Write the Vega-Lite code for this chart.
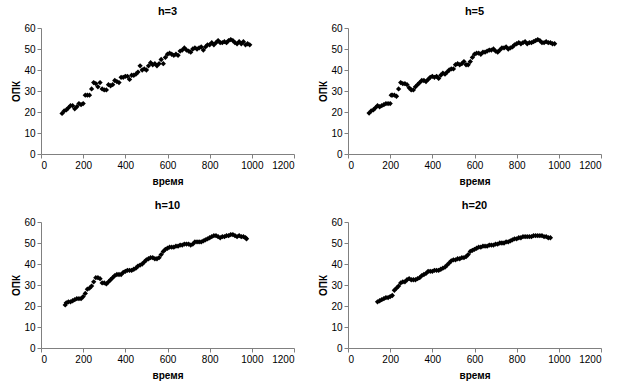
{
 "$schema": "https://vega.github.io/schema/vega-lite/v6.json",
 "padding": {"left": 11, "top": 6, "right": 5, "bottom": 5},
 "background": "white",
 "data": {"values": [
{"h":"h=3","t":100,"v":19.3},{"h":"h=3","t":110,"v":20.5},{"h":"h=3","t":120,"v":21},{"h":"h=3","t":130,"v":22},{"h":"h=3","t":140,"v":23},{"h":"h=3","t":150,"v":23},{"h":"h=3","t":160,"v":21.5},{"h":"h=3","t":170,"v":22.5},{"h":"h=3","t":180,"v":24},{"h":"h=3","t":190,"v":23.5},{"h":"h=3","t":200,"v":24},{"h":"h=3","t":210,"v":28},{"h":"h=3","t":220,"v":28},{"h":"h=3","t":230,"v":28},{"h":"h=3","t":240,"v":31},{"h":"h=3","t":250,"v":34},{"h":"h=3","t":260,"v":33.5},{"h":"h=3","t":270,"v":32},{"h":"h=3","t":280,"v":34},{"h":"h=3","t":290,"v":31},{"h":"h=3","t":300,"v":30.5},{"h":"h=3","t":310,"v":30.5},{"h":"h=3","t":320,"v":33},{"h":"h=3","t":330,"v":32.5},{"h":"h=3","t":340,"v":33},{"h":"h=3","t":350,"v":35},{"h":"h=3","t":360,"v":34.5},{"h":"h=3","t":370,"v":34},{"h":"h=3","t":380,"v":36.5},{"h":"h=3","t":390,"v":36.5},{"h":"h=3","t":400,"v":37},{"h":"h=3","t":410,"v":37},{"h":"h=3","t":420,"v":35.5},{"h":"h=3","t":430,"v":37.5},{"h":"h=3","t":440,"v":37.5},{"h":"h=3","t":450,"v":38},{"h":"h=3","t":460,"v":39},{"h":"h=3","t":470,"v":42},{"h":"h=3","t":480,"v":40},{"h":"h=3","t":490,"v":40.5},{"h":"h=3","t":500,"v":40},{"h":"h=3","t":510,"v":42},{"h":"h=3","t":520,"v":43.5},{"h":"h=3","t":530,"v":42.5},{"h":"h=3","t":540,"v":43},{"h":"h=3","t":550,"v":42},{"h":"h=3","t":560,"v":43},{"h":"h=3","t":570,"v":45},{"h":"h=3","t":580,"v":43},{"h":"h=3","t":590,"v":46},{"h":"h=3","t":600,"v":47.5},{"h":"h=3","t":610,"v":48},{"h":"h=3","t":620,"v":47.5},{"h":"h=3","t":630,"v":47},{"h":"h=3","t":640,"v":47.5},{"h":"h=3","t":650,"v":47},{"h":"h=3","t":660,"v":49},{"h":"h=3","t":670,"v":49.5},{"h":"h=3","t":680,"v":50.5},{"h":"h=3","t":690,"v":49.5},{"h":"h=3","t":700,"v":49},{"h":"h=3","t":710,"v":48.5},{"h":"h=3","t":720,"v":50},{"h":"h=3","t":730,"v":50.5},{"h":"h=3","t":740,"v":50},{"h":"h=3","t":750,"v":50.5},{"h":"h=3","t":760,"v":51},{"h":"h=3","t":770,"v":49.5},{"h":"h=3","t":780,"v":51},{"h":"h=3","t":790,"v":52},{"h":"h=3","t":800,"v":52},{"h":"h=3","t":810,"v":53},{"h":"h=3","t":820,"v":52},{"h":"h=3","t":830,"v":53},{"h":"h=3","t":840,"v":54},{"h":"h=3","t":850,"v":53},{"h":"h=3","t":860,"v":53},{"h":"h=3","t":870,"v":53.5},{"h":"h=3","t":880,"v":53},{"h":"h=3","t":890,"v":54},{"h":"h=3","t":900,"v":54.5},{"h":"h=3","t":910,"v":54},{"h":"h=3","t":920,"v":53},{"h":"h=3","t":930,"v":52.5},{"h":"h=3","t":940,"v":53.5},{"h":"h=3","t":950,"v":52.5},{"h":"h=3","t":960,"v":53.5},{"h":"h=3","t":970,"v":52},{"h":"h=3","t":980,"v":52.5},{"h":"h=3","t":990,"v":52},
{"h":"h=5","t":100,"v":19.5},{"h":"h=5","t":110,"v":20.5},{"h":"h=5","t":120,"v":21},{"h":"h=5","t":130,"v":22},{"h":"h=5","t":140,"v":23},{"h":"h=5","t":150,"v":22.5},{"h":"h=5","t":160,"v":23},{"h":"h=5","t":170,"v":23.5},{"h":"h=5","t":180,"v":24},{"h":"h=5","t":190,"v":24},{"h":"h=5","t":200,"v":24},{"h":"h=5","t":205,"v":28},{"h":"h=5","t":210,"v":28},{"h":"h=5","t":220,"v":28},{"h":"h=5","t":230,"v":27.5},{"h":"h=5","t":240,"v":31},{"h":"h=5","t":250,"v":34},{"h":"h=5","t":260,"v":33.5},{"h":"h=5","t":270,"v":33.5},{"h":"h=5","t":280,"v":33},{"h":"h=5","t":290,"v":31.5},{"h":"h=5","t":300,"v":30.5},{"h":"h=5","t":310,"v":30.5},{"h":"h=5","t":320,"v":32},{"h":"h=5","t":330,"v":33},{"h":"h=5","t":340,"v":34},{"h":"h=5","t":350,"v":35},{"h":"h=5","t":360,"v":35},{"h":"h=5","t":370,"v":34.5},{"h":"h=5","t":380,"v":35.5},{"h":"h=5","t":390,"v":36.5},{"h":"h=5","t":400,"v":37},{"h":"h=5","t":410,"v":36.5},{"h":"h=5","t":420,"v":37},{"h":"h=5","t":430,"v":36},{"h":"h=5","t":440,"v":37.5},{"h":"h=5","t":450,"v":38.5},{"h":"h=5","t":460,"v":38},{"h":"h=5","t":470,"v":39},{"h":"h=5","t":480,"v":40},{"h":"h=5","t":490,"v":40.5},{"h":"h=5","t":500,"v":40.5},{"h":"h=5","t":510,"v":42.5},{"h":"h=5","t":520,"v":43},{"h":"h=5","t":530,"v":42.5},{"h":"h=5","t":540,"v":43},{"h":"h=5","t":550,"v":44},{"h":"h=5","t":560,"v":42.5},{"h":"h=5","t":570,"v":42.5},{"h":"h=5","t":580,"v":44},{"h":"h=5","t":590,"v":46},{"h":"h=5","t":600,"v":47.5},{"h":"h=5","t":610,"v":48},{"h":"h=5","t":620,"v":48},{"h":"h=5","t":630,"v":47.5},{"h":"h=5","t":640,"v":48.5},{"h":"h=5","t":650,"v":48.5},{"h":"h=5","t":660,"v":49},{"h":"h=5","t":670,"v":49.5},{"h":"h=5","t":680,"v":49.5},{"h":"h=5","t":690,"v":50},{"h":"h=5","t":700,"v":49},{"h":"h=5","t":710,"v":48.5},{"h":"h=5","t":720,"v":49.5},{"h":"h=5","t":730,"v":50.5},{"h":"h=5","t":740,"v":50.5},{"h":"h=5","t":750,"v":51},{"h":"h=5","t":760,"v":50},{"h":"h=5","t":770,"v":50.5},{"h":"h=5","t":780,"v":51},{"h":"h=5","t":790,"v":52},{"h":"h=5","t":800,"v":52.5},{"h":"h=5","t":810,"v":53},{"h":"h=5","t":820,"v":52.5},{"h":"h=5","t":830,"v":53},{"h":"h=5","t":840,"v":53.5},{"h":"h=5","t":850,"v":52.5},{"h":"h=5","t":860,"v":53},{"h":"h=5","t":870,"v":53},{"h":"h=5","t":880,"v":53.5},{"h":"h=5","t":890,"v":54},{"h":"h=5","t":900,"v":54.5},{"h":"h=5","t":910,"v":54},{"h":"h=5","t":920,"v":53},{"h":"h=5","t":930,"v":53},{"h":"h=5","t":940,"v":53.5},{"h":"h=5","t":950,"v":53},{"h":"h=5","t":960,"v":53},{"h":"h=5","t":970,"v":52.5},{"h":"h=5","t":980,"v":52.5},
{"h":"h=10","t":115,"v":20.5},{"h":"h=10","t":120,"v":21.5},{"h":"h=10","t":130,"v":22},{"h":"h=10","t":140,"v":22},{"h":"h=10","t":150,"v":22.5},{"h":"h=10","t":160,"v":23},{"h":"h=10","t":170,"v":23.5},{"h":"h=10","t":180,"v":23.5},{"h":"h=10","t":190,"v":23.5},{"h":"h=10","t":200,"v":24.5},{"h":"h=10","t":210,"v":26},{"h":"h=10","t":220,"v":28},{"h":"h=10","t":230,"v":28.5},{"h":"h=10","t":240,"v":29.5},{"h":"h=10","t":250,"v":31.5},{"h":"h=10","t":260,"v":33.5},{"h":"h=10","t":270,"v":33.5},{"h":"h=10","t":280,"v":33},{"h":"h=10","t":290,"v":31},{"h":"h=10","t":300,"v":31},{"h":"h=10","t":310,"v":30.5},{"h":"h=10","t":320,"v":31.5},{"h":"h=10","t":330,"v":32.5},{"h":"h=10","t":340,"v":33.5},{"h":"h=10","t":350,"v":34.5},{"h":"h=10","t":360,"v":35},{"h":"h=10","t":370,"v":35},{"h":"h=10","t":380,"v":35},{"h":"h=10","t":390,"v":36},{"h":"h=10","t":400,"v":36.5},{"h":"h=10","t":410,"v":37},{"h":"h=10","t":420,"v":37},{"h":"h=10","t":430,"v":37},{"h":"h=10","t":440,"v":37.5},{"h":"h=10","t":450,"v":38},{"h":"h=10","t":460,"v":39},{"h":"h=10","t":470,"v":39.5},{"h":"h=10","t":480,"v":40},{"h":"h=10","t":490,"v":41},{"h":"h=10","t":500,"v":42},{"h":"h=10","t":510,"v":42.5},{"h":"h=10","t":520,"v":43},{"h":"h=10","t":530,"v":43},{"h":"h=10","t":540,"v":42.5},{"h":"h=10","t":550,"v":42.5},{"h":"h=10","t":560,"v":43},{"h":"h=10","t":570,"v":44.5},{"h":"h=10","t":580,"v":46},{"h":"h=10","t":590,"v":47},{"h":"h=10","t":600,"v":47.5},{"h":"h=10","t":610,"v":48},{"h":"h=10","t":620,"v":48},{"h":"h=10","t":630,"v":48},{"h":"h=10","t":640,"v":48.5},{"h":"h=10","t":650,"v":48.5},{"h":"h=10","t":660,"v":49},{"h":"h=10","t":670,"v":49},{"h":"h=10","t":680,"v":49.5},{"h":"h=10","t":690,"v":49.5},{"h":"h=10","t":700,"v":49.5},{"h":"h=10","t":710,"v":49},{"h":"h=10","t":720,"v":49.5},{"h":"h=10","t":730,"v":50.5},{"h":"h=10","t":740,"v":50.5},{"h":"h=10","t":750,"v":50.5},{"h":"h=10","t":760,"v":50.5},{"h":"h=10","t":770,"v":51},{"h":"h=10","t":780,"v":51.5},{"h":"h=10","t":790,"v":52},{"h":"h=10","t":800,"v":52.5},{"h":"h=10","t":810,"v":53},{"h":"h=10","t":820,"v":53.5},{"h":"h=10","t":830,"v":53.5},{"h":"h=10","t":840,"v":53},{"h":"h=10","t":850,"v":52.5},{"h":"h=10","t":860,"v":53},{"h":"h=10","t":870,"v":53},{"h":"h=10","t":880,"v":53.5},{"h":"h=10","t":890,"v":53.5},{"h":"h=10","t":900,"v":54},{"h":"h=10","t":910,"v":54},{"h":"h=10","t":920,"v":53.5},{"h":"h=10","t":930,"v":53},{"h":"h=10","t":940,"v":53.5},{"h":"h=10","t":950,"v":53},{"h":"h=10","t":960,"v":53},{"h":"h=10","t":970,"v":52.5},{"h":"h=10","t":975,"v":52},
{"h":"h=20","t":140,"v":22},{"h":"h=20","t":150,"v":22.5},{"h":"h=20","t":160,"v":23},{"h":"h=20","t":170,"v":23.5},{"h":"h=20","t":180,"v":24},{"h":"h=20","t":190,"v":24},{"h":"h=20","t":200,"v":24.5},{"h":"h=20","t":210,"v":25},{"h":"h=20","t":220,"v":27.5},{"h":"h=20","t":230,"v":28.5},{"h":"h=20","t":240,"v":29.5},{"h":"h=20","t":250,"v":31},{"h":"h=20","t":260,"v":31.5},{"h":"h=20","t":270,"v":31.5},{"h":"h=20","t":280,"v":32.5},{"h":"h=20","t":290,"v":33},{"h":"h=20","t":300,"v":32.5},{"h":"h=20","t":310,"v":32.5},{"h":"h=20","t":320,"v":32.5},{"h":"h=20","t":330,"v":33},{"h":"h=20","t":340,"v":33.5},{"h":"h=20","t":350,"v":34.5},{"h":"h=20","t":360,"v":35},{"h":"h=20","t":370,"v":35.5},{"h":"h=20","t":380,"v":36.5},{"h":"h=20","t":390,"v":36.5},{"h":"h=20","t":400,"v":36.5},{"h":"h=20","t":410,"v":37},{"h":"h=20","t":420,"v":37},{"h":"h=20","t":430,"v":37},{"h":"h=20","t":440,"v":37.5},{"h":"h=20","t":450,"v":38},{"h":"h=20","t":460,"v":38.5},{"h":"h=20","t":470,"v":39.5},{"h":"h=20","t":480,"v":40.5},{"h":"h=20","t":490,"v":41.5},{"h":"h=20","t":500,"v":42},{"h":"h=20","t":510,"v":42},{"h":"h=20","t":520,"v":42.5},{"h":"h=20","t":530,"v":42.5},{"h":"h=20","t":540,"v":43},{"h":"h=20","t":550,"v":43},{"h":"h=20","t":560,"v":43.5},{"h":"h=20","t":570,"v":44.5},{"h":"h=20","t":580,"v":46},{"h":"h=20","t":590,"v":46.5},{"h":"h=20","t":600,"v":47},{"h":"h=20","t":610,"v":47.5},{"h":"h=20","t":620,"v":48},{"h":"h=20","t":630,"v":48},{"h":"h=20","t":640,"v":48.5},{"h":"h=20","t":650,"v":48.5},{"h":"h=20","t":660,"v":48.5},{"h":"h=20","t":670,"v":49},{"h":"h=20","t":680,"v":49},{"h":"h=20","t":690,"v":49},{"h":"h=20","t":700,"v":49.5},{"h":"h=20","t":710,"v":49.5},{"h":"h=20","t":720,"v":50},{"h":"h=20","t":730,"v":50},{"h":"h=20","t":740,"v":50},{"h":"h=20","t":750,"v":50.5},{"h":"h=20","t":760,"v":50.5},{"h":"h=20","t":770,"v":51},{"h":"h=20","t":780,"v":51.5},{"h":"h=20","t":790,"v":52},{"h":"h=20","t":800,"v":52},{"h":"h=20","t":810,"v":52.5},{"h":"h=20","t":820,"v":52.5},{"h":"h=20","t":830,"v":53},{"h":"h=20","t":840,"v":53},{"h":"h=20","t":850,"v":53},{"h":"h=20","t":860,"v":53},{"h":"h=20","t":870,"v":53},{"h":"h=20","t":880,"v":53.5},{"h":"h=20","t":890,"v":53.5},{"h":"h=20","t":900,"v":53.5},{"h":"h=20","t":910,"v":53.5},{"h":"h=20","t":920,"v":53.5},{"h":"h=20","t":930,"v":53},{"h":"h=20","t":940,"v":53},{"h":"h=20","t":950,"v":52.5},{"h":"h=20","t":960,"v":52.5}
 ]},
 "facet": {
  "field": "h", "type": "nominal", "sort": ["h=3", "h=5", "h=10", "h=20"], "title": null,
  "header": {"labelFont": "Liberation Sans", "labelFontSize": 11, "labelFontWeight": "bold", "labelColor": "black", "labelPadding": 6}
 },
 "columns": 2,
 "bounds": "flush",
 "spacing": {"column": 54, "row": 68},
 "resolve": {"axis": {"x": "independent", "y": "independent"}},
 "spec": {
  "width": 253,
  "height": 126,
  "mark": {"type": "point", "shape": "diamond", "filled": true, "color": "black", "size": 28, "opacity": 1},
  "encoding": {
   "x": {"field": "t", "type": "quantitative", "scale": {"domain": [0, 1200], "nice": false}, "axis": {"title": "время", "format": "d", "values": [0, 200, 400, 600, 800, 1000, 1200]}},
   "y": {"field": "v", "type": "quantitative", "scale": {"domain": [0, 60], "nice": false}, "axis": {"title": "ОПК", "format": "d", "values": [0, 10, 20, 30, 40, 50, 60]}}
  }
 },
 "config": {
  "view": {"stroke": null},
  "axis": {"grid": false, "labelFont": "Liberation Sans", "labelFontSize": 10, "labelColor": "black", "titleFont": "Liberation Sans", "titleFontSize": 10, "titleFontWeight": "bold", "titleColor": "black", "domainColor": "#808080", "tickColor": "#808080", "tickSize": 4, "labelPadding": 2},
  "axisX": {"titlePadding": 6},
  "axisY": {"titlePadding": 2}
 }
}
